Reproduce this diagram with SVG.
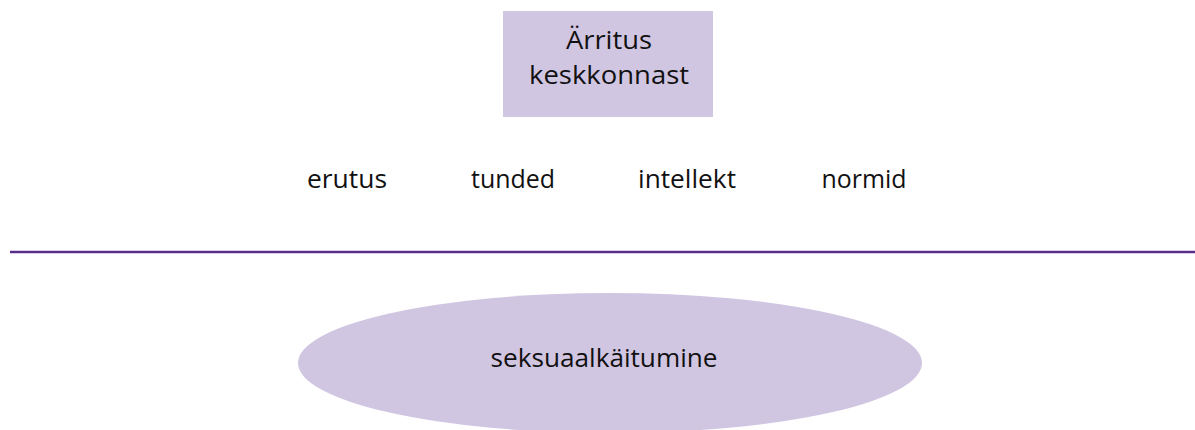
<svg xmlns="http://www.w3.org/2000/svg" width="1195" height="430" viewBox="0 0 1195 430">
  <style>
    .shape { fill: #d1c6e2; stroke: none; }
    .label { font-family: "Open Sans", "Noto Sans", sans-serif; font-size: 25px; fill: #111111; text-anchor: middle; }
    .divider { stroke: #5a2f8c; stroke-width: 2.5; }
  </style>
  <rect width="1195" height="430" fill="#ffffff"/>

  <g id="stimulus">
    <rect class="shape" x="503" y="11" width="210" height="106"/>
    <text class="label" x="609" y="49" textLength="86" lengthAdjust="spacingAndGlyphs">Ärritus</text>
    <text class="label" x="609" y="84" textLength="160" lengthAdjust="spacingAndGlyphs">keskkonnast</text>
  </g>

  <g id="factor-erutus">
    <text class="label" x="347" y="188" textLength="80" lengthAdjust="spacingAndGlyphs">erutus</text>
  </g>
  <g id="factor-tunded">
    <text class="label" x="513" y="188" textLength="84" lengthAdjust="spacingAndGlyphs">tunded</text>
  </g>
  <g id="factor-intellekt">
    <text class="label" x="687" y="188" textLength="98" lengthAdjust="spacingAndGlyphs">intellekt</text>
  </g>
  <g id="factor-normid">
    <text class="label" x="864" y="188" textLength="85" lengthAdjust="spacingAndGlyphs">normid</text>
  </g>

  <g id="connectors">
    <line class="divider" x1="10" y1="252" x2="1195" y2="252"/>
  </g>

  <g id="behaviour">
    <ellipse class="shape" cx="610" cy="363" rx="312" ry="70"/>
    <text class="label" x="604" y="367" textLength="227" lengthAdjust="spacingAndGlyphs">seksuaalkäitumine</text>
  </g>
</svg>
